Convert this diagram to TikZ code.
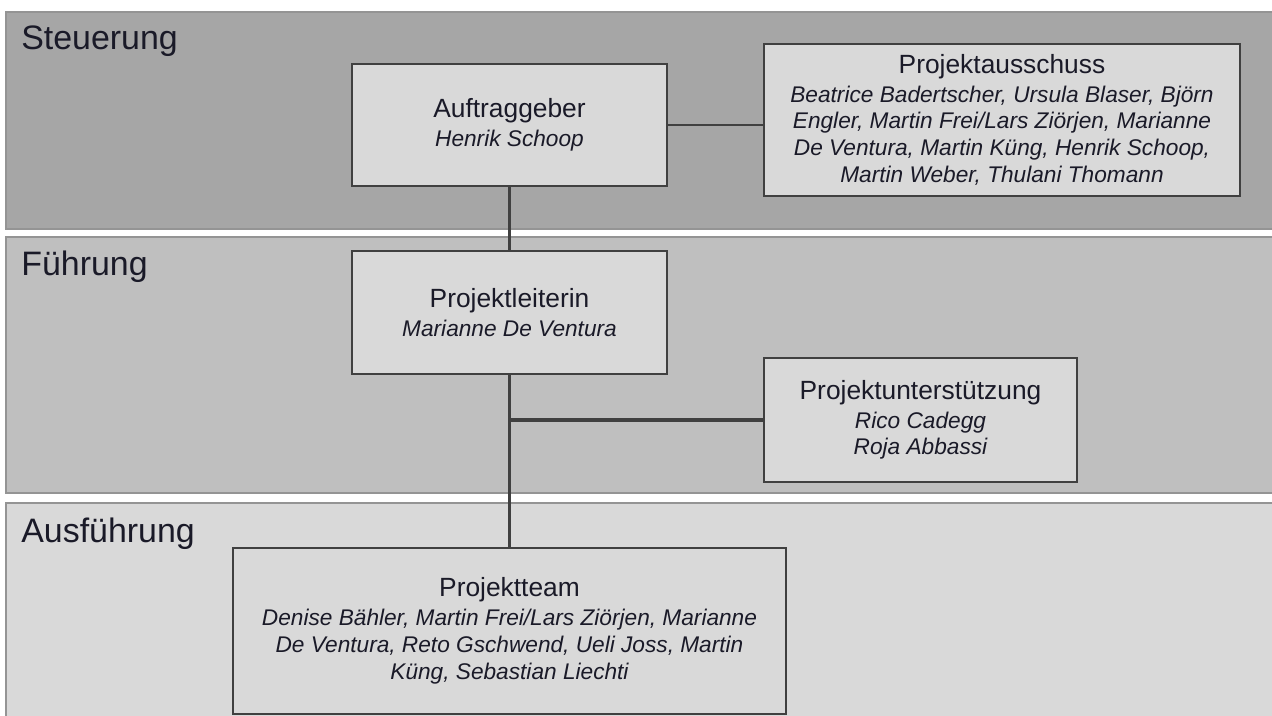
\documentclass[tikz,border=0pt]{standalone}
\usepackage{fontspec}
\setmainfont{Liberation Sans}
\usetikzlibrary{positioning}

\definecolor{bandtop}{HTML}{A6A6A6}
\definecolor{bandmid}{HTML}{BFBFBF}
\definecolor{bandlow}{HTML}{D9D9D9}
\definecolor{boxfill}{HTML}{D9D9D9}
\definecolor{boxline}{HTML}{404040}
\definecolor{inktext}{HTML}{1A1A28}

\newcommand{\rolehead}[1]{{\upshape\fontsize{15}{17}\selectfont #1}}

\begin{document}
\begin{tikzpicture}[
        x=0.02cm, y=-0.02cm,
        band/.style={draw=black!42, line width=0.6pt},
        layer/.style={anchor=base west, inner sep=0pt, text=inktext, font=\fontsize{19.3}{22}\selectfont},
        role/.style={rectangle, draw=boxline, fill=boxfill, line width=1.6pt, align=center, inner sep=0pt, text=inktext, font=\fontsize{12.9}{15.3}\selectfont\itshape},
        link/.style={draw=boxline, line width=1.7pt},
        hub/.style={draw=boxline, line width=2.3pt}
    ]
        \useasboundingbox (0,0) rectangle (1272,716);
        \fill[white] (0,0) rectangle (1272,716);

        % Layers
        \draw[band, fill=bandtop] (6,12) rectangle (1274,229);
        \draw[band, fill=bandmid] (6,237) rectangle (1274,493);
        \draw[band, fill=bandlow] (6,503) rectangle (1274,718);
        \node[layer] (steuerung) at (21,50) {Steuerung};
        \node[layer] (fuehrung) at (21,276) {Führung};
        \node[layer] (ausfuehrung) at (21,542) {Ausführung};

        % Roles
        \node[role, minimum width=6.3cm, minimum height=2.44cm] (auftrag) at (509.5,125)
            {\rolehead{Auftraggeber}\\[1pt] Henrik Schoop};
        \node[role, minimum width=9.52cm, minimum height=3.04cm] (ausschuss) at (1002,120)
            {\rolehead{Projektausschuss}\\[1pt]
             Beatrice Badertscher, Ursula Blaser, Björn\\
             Engler, Martin Frei/Lars Ziörjen, Marianne\\
             De Ventura, Martin Küng, Henrik Schoop,\\
             Martin Weber, Thulani Thomann};
        \node[role, minimum width=6.3cm, minimum height=2.46cm] (leiterin) at (509.5,312.5)
            {\rolehead{Projektleiterin}\\[1pt] Marianne De Ventura};
        \node[role, minimum width=6.26cm, minimum height=2.48cm] (support) at (920.5,420)
            {\rolehead{Projektunterstützung}\\[1pt] Rico Cadegg\\ Roja Abbassi};
        \node[role, minimum width=11.06cm, minimum height=3.32cm] (team) at (509.5,631)
            {\rolehead{Projektteam}\\[1pt]
             Denise Bähler, Martin Frei/Lars Ziörjen, Marianne\\
             De Ventura, Reto Gschwend, Ueli Joss, Martin\\
             Küng, Sebastian Liechti};

        % Connections
        \coordinate (junction) at (leiterin.south |- support.west);
        \draw[link] (auftrag.east) -- (auftrag.east -| ausschuss.west);
        \draw[link] (auftrag.south) -- (leiterin.north);
        \draw[link] (leiterin.south) -- (team.north);
        \draw[hub] (junction) -- (support.west);
    \end{tikzpicture}
\end{document}
